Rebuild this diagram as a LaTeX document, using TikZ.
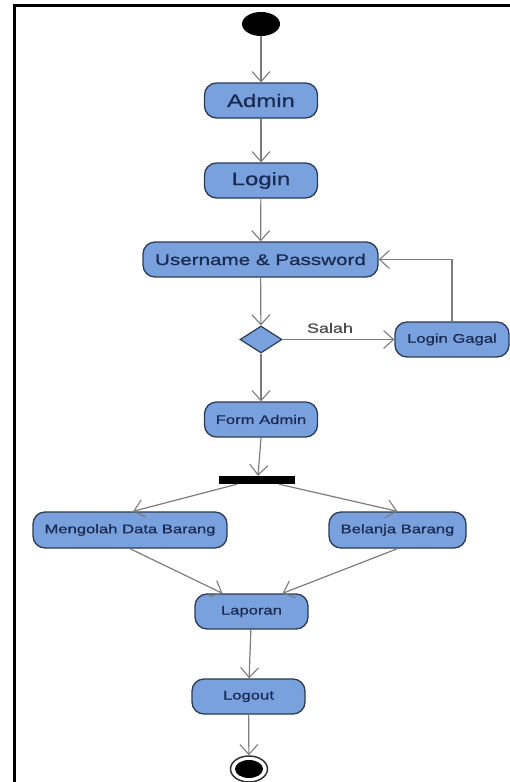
\documentclass[tikz,border=0pt]{standalone}
\usepackage{fontspec}
\setmainfont{Liberation Sans}[FakeStretch=1.33,FakeBold=0.8]
\usetikzlibrary{arrows.meta,shapes.geometric,calc}
\definecolor{boxfill}{HTML}{79A1DD}
\definecolor{boxline}{HTML}{2B3B55}
\definecolor{boxtext}{HTML}{1B2A50}
\definecolor{flow}{HTML}{7C7C7C}
\tikzset{
  act/.style={draw=boxline, fill=boxfill, line width=1.3pt, rounded corners=12pt,
    text=boxtext, inner sep=0pt, minimum height=35pt, font=\fontsize{12.5}{14}\selectfont},
  flowline/.style={draw=flow, line width=1.2pt, -{Straight Barb[length=10pt,width=18pt,line width=1.1pt]}},
}
\begin{document}
\begin{tikzpicture}[x=1pt,y=-1pt]
\useasboundingbox (0,0) rectangle (510,782);
% frame
\draw[line width=3pt] (13,5) -- (510,5);
\draw[line width=3pt] (14.5,5) -- (14.5,782);
% nodes
\node[ellipse, fill=black, minimum width=38pt, minimum height=24pt, inner sep=0pt] (start) at (261,24) {};
\node[act, minimum width=113pt, font=\fontsize{18}{20}\selectfont] (admin) at (261,100.5) {Admin};
\node[act, minimum width=113pt, font=\fontsize{18}{20}\selectfont] (login) at (261,180.5) {Login};
\node[act, minimum width=235pt, font=\fontsize{15.5}{17}\selectfont] (up) at (260.5,259.5) {Username \& Password};
\node[diamond, draw=boxline, fill=boxfill, line width=1.2pt, minimum width=42pt, minimum height=27pt, inner sep=0pt] (dec) at (261,339.5) {};
\node[act, minimum width=114pt] (gagal) at (452,339.5) {Login Gagal};
\node[act, minimum width=113pt] (form) at (261,419.5) {Form Admin};
\node[fill=black, minimum width=76pt, minimum height=8pt, inner sep=0pt] (fork) at (257,480) {};
\node[act, minimum width=194pt, minimum height=36pt] (olah) at (130,530) {Mengolah Data Barang};
\node[act, minimum width=137pt, minimum height=36pt] (belanja) at (397.5,530) {Belanja Barang};
\node[act, minimum width=113pt] (lap) at (251.5,611.5) {Laporan};
\node[act, minimum width=113pt] (logout) at (248.5,696.5) {Logout};
\node[ellipse, draw=black!80, line width=1.5pt, fill=white, minimum width=37pt, minimum height=26pt, inner sep=0pt] (end) at (249,769) {};
\node[ellipse, fill=black, minimum width=28pt, minimum height=18pt, inner sep=0pt] (endin) at (end.center) {};
\node[text=black!70, font=\fontsize{13.5}{15}\selectfont, inner sep=0pt] (salah) at (330,328) {Salah};
% connectors
\draw[flowline] (start) -- (admin);
\draw[flowline] (admin) -- (login);
\draw[flowline] (login) -- (up);
\draw[flowline] (up) -- (dec);
\draw[flowline] (dec) -- (gagal);
\draw[flowline] (gagal.north) |- (up.east);
\draw[flowline] (dec) -- (form);
\draw[flowline] (form.south) -- ($(fork.north)+(1,0)$);
\draw[flowline] ($(fork.south)+(-20,0)$) -- ($(olah.north)+(3,0)$);
\draw[flowline] ($(fork.south)+(22,0)$) -- ($(belanja.north)+(0,0)$);
\draw[flowline] (olah.south) -- ($(lap.north)+(-29,0)$);
\draw[flowline] (belanja.south) -- ($(lap.north)+(31,0)$);
\draw[flowline] (lap) -- (logout);
\draw[flowline] (logout) -- (end);
\end{tikzpicture}
\end{document}
